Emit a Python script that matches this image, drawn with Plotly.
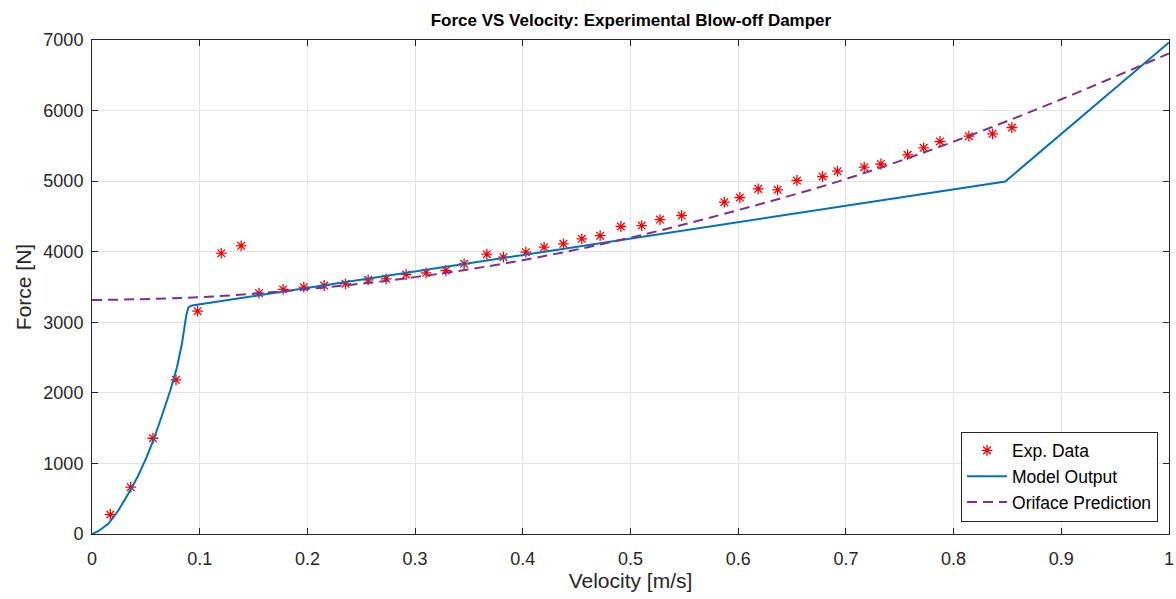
import plotly.graph_objects as go

# Experimental data (velocity m/s, force N)
exp_v = [0.017, 0.036, 0.0566, 0.078, 0.098, 0.120, 0.1385, 0.155, 0.1775, 0.1967,
         0.2156, 0.2354, 0.2564, 0.2731, 0.2917, 0.3102, 0.3285, 0.3455, 0.3666, 0.3820,
         0.4028, 0.4198, 0.4377, 0.4548, 0.4718, 0.4911, 0.5104, 0.5274, 0.5475, 0.5871,
         0.6015, 0.6186, 0.6366, 0.6545, 0.6783, 0.6922, 0.7170, 0.7325, 0.7573, 0.7722,
         0.7873, 0.8142, 0.8362, 0.8541]
exp_f = [276, 663, 1357, 2185, 3157, 3979, 4084, 3412, 3465, 3497,
         3521, 3545, 3602, 3616, 3677, 3701, 3734, 3829, 3965, 3922,
         3993, 4064, 4112, 4183, 4227, 4357, 4371, 4456, 4513, 4702,
         4768, 4891, 4877, 5009, 5066, 5141, 5198, 5243, 5373, 5472,
         5562, 5637, 5671, 5760]

# Model output
model_v = [0.0, 0.0058, 0.0151, 0.0244, 0.0337, 0.0430, 0.0507, 0.0569, 0.0634, 0.0727,
           0.0789, 0.0835, 0.0875, 0.0896, 0.0928, 0.848, 1.0]
model_f = [0, 40, 145, 333, 570, 829, 1088, 1325, 1608, 2033,
           2364, 2695, 3095, 3214, 3238, 4995, 6965]

# Orifice prediction
orif_v = [0.0, 0.1, 0.2, 0.3, 0.4, 0.5, 0.6, 0.7, 0.8, 0.9, 1.0]
orif_f = [3315, 3355, 3470, 3640, 3880, 4200, 4590, 5030, 5560, 6160, 6810]

x_ticks = [0, 0.1, 0.2, 0.3, 0.4, 0.5, 0.6, 0.7, 0.8, 0.9, 1]
x_tick_text = ["0", "0.1", "0.2", "0.3", "0.4", "0.5", "0.6", "0.7", "0.8", "0.9", "1"]
y_ticks = [0, 1000, 2000, 3000, 4000, 5000, 6000, 7000]

FONT = "Liberation Sans, Arial, Helvetica, sans-serif"
AX = "#262626"

fig = go.Figure()
fig.add_trace(go.Scatter(x=exp_v, y=exp_f, mode="markers", name="Exp. Data",
                         marker=dict(symbol="asterisk-open", size=9, color="red",
                                     line=dict(color="red", width=1.3))))
fig.add_trace(go.Scatter(x=model_v, y=model_f, mode="lines", name="Model Output",
                         line=dict(color="#0072BD", width=2)))
fig.add_trace(go.Scatter(x=orif_v, y=orif_f, mode="lines", name="Oriface Prediction",
                         line=dict(color="#7E2F8E", width=2, dash="10px,6px", shape="spline")))

axis_common = dict(showline=True, linecolor=AX, linewidth=1, mirror="allticks",
                   ticks="inside", ticklen=6, tickcolor=AX, automargin=False,
                   showgrid=True, gridcolor="#e3e3e3", gridwidth=1, zeroline=False,
                   tickfont=dict(family=FONT, size=18, color=AX))

fig.update_layout(
    width=1176, height=599,
    margin=dict(l=92, r=7, t=40, b=65),
    paper_bgcolor="white", plot_bgcolor="white",
    font=dict(family=FONT, color=AX),
    title=dict(text="<b>Force VS Velocity: Experimental Blow-off Damper</b>",
               x=0.5365, xanchor="center", y=0.966, yanchor="middle",
               font=dict(family=FONT, size=17, color="black")),
    xaxis=dict(range=[0, 1], tickvals=x_ticks, ticktext=x_tick_text, ticklabelstandoff=8,
               title=dict(text="Velocity [m/s]", font=dict(family=FONT, size=21, color=AX), standoff=0),
               **axis_common),
    yaxis=dict(range=[0, 7000], tickvals=y_ticks, ticklabelstandoff=4,
               title=dict(text="Force [N]", font=dict(family=FONT, size=21, color=AX), standoff=6),
               **axis_common),
    legend=dict(x=0.9898, y=0.0253, xanchor="right", yanchor="bottom",
                bgcolor="white", bordercolor=AX, borderwidth=1,
                font=dict(family=FONT, size=17.5, color="black"),
                tracegroupgap=0, itemwidth=40),
    showlegend=True,
)

fig.write_html("out.html")
